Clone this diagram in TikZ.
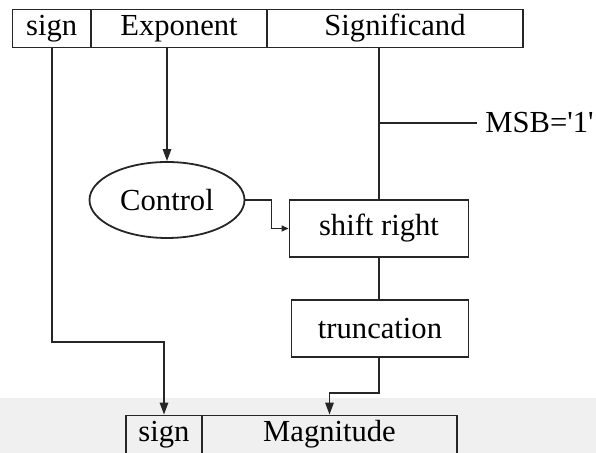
\documentclass[tikz,border=0pt]{standalone}
\usepackage{fontspec}
\setmainfont{Liberation Serif}
\usetikzlibrary{arrows.meta,shapes.geometric}
\begin{document}
\begin{tikzpicture}[x=0.5pt,y=-0.5pt,
  every node/.style={font=\fontsize{15.3}{18}\selectfont},
  wire/.style={line width=0.9pt,draw=black!85},
  field/.style={draw=black!85,line width=0.9pt,rectangle,inner sep=0pt,minimum height=19pt},
  stage/.style={draw=black!85,line width=0.9pt,rectangle,inner sep=0pt,minimum height=28.5pt},
  arr/.style={wire,-{Triangle[length=6pt,width=4.2pt]}},
  smallarr/.style={line width=0.6pt,draw=black!85,-{Triangle[length=3.5pt,width=3pt]}}]
  \useasboundingbox (0,0) rectangle (596,453);
  \begin{scope}
  \clip (0,0) rectangle (596,453);
  % light grey band along the lower edge
  \fill[black!6] (0,398) rectangle (596,460);

  % input word
  \node[field,minimum width=39.25pt] (sign) at (51.75,28.5) {sign};
  \node[field,minimum width=88pt] (exp) at (179,28.5) {Exponent};
  \node[field,minimum width=128pt] (sig) at (395,28.5) {Significand};

  % processing stages
  \node[ellipse,draw=black!85,line width=0.9pt,minimum width=77.5pt,minimum height=38pt,inner sep=0pt] (ctrl) at (167,200) {Control};
  \node[stage,minimum width=89.5pt] (shift) at (379,228.5) {shift right};
  \node[stage,minimum width=88.5pt] (trunc) at (380,328.5) {truncation};

  % output word
  \node[field,minimum width=38pt] (bsign) at (164,434.5) {sign};
  \node[field,minimum width=127.5pt] (mag) at (329.5,434.5) {Magnitude};

  % MSB tap
  \coordinate (tap) at (380,123);
  \node[anchor=west,inner xsep=4pt,inner ysep=0pt] (msb) at (477,123) {MSB=\textquotesingle 1\textquotesingle};

  \coordinate (sbend) at (0,342);
  \coordinate (tbend) at (0,393);

  % connectors
  \draw[arr] (ctrl.north |- exp.south) -- (ctrl.north);
  \draw[wire] (shift.north |- sig.south) -- (shift.north);
  \draw[wire] (tap) -- (msb.west);
  \draw[smallarr] (ctrl.east) -- ++(26,0) |- (shift.west);
  \draw[wire] (shift.south) -- (shift.south |- trunc.north);
  \draw[arr] (sign.south) -- (sign.south |- sbend) -| (bsign.north);
  \draw[arr] (shift.south |- trunc.south) -- (shift.south |- tbend) -| (mag.north);
  \end{scope}
\end{tikzpicture}
\end{document}
